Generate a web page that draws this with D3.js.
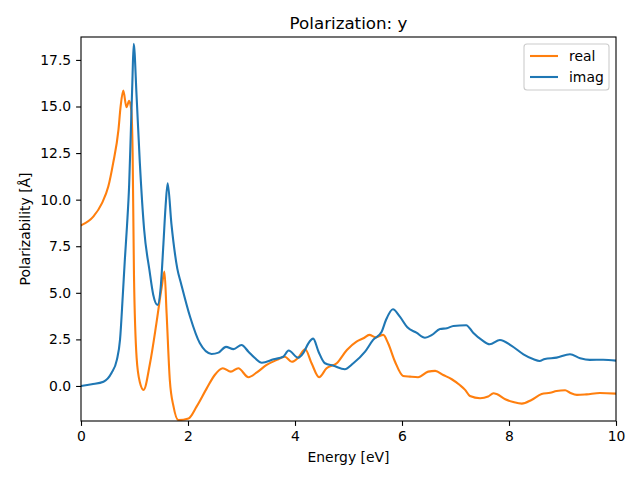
<!DOCTYPE html>
<html><head><meta charset="utf-8">
<script src="https://cdn.jsdelivr.net/npm/d3@7"></script>
<style>body{margin:0;background:#fff}svg{display:block}</style>
</head><body>
<svg id="c" width="640" height="480"></svg>
<script>
const realE = [0,0.23,0.39,0.51,0.6,0.7,0.74,0.79,0.85,0.9,0.94,0.965,0.99,1.04,1.1,1.17,1.29,1.41,1.51,1.56,1.6,1.66,1.73,1.82,2.01,2.16,2.35,2.5,2.65,2.8,2.94,3.13,3.28,3.47,3.66,3.81,3.94,4.06,4.19,4.31,4.45,4.59,4.78,4.97,5.15,5.28,5.39,5.51,5.65,5.74,5.87,6.02,6.15,6.3,6.49,6.62,6.77,6.93,7.08,7.18,7.27,7.46,7.61,7.71,7.77,7.93,8.08,8.24,8.42,8.61,8.77,8.89,9.05,9.14,9.27,9.45,9.7,10];
const realV = [8.62,9.09,9.8,10.7,11.95,13.74,14.99,15.85,14.96,15.3,14.8,12.5,6.0,1.5,0.2,-0.21,1.22,3.37,5.33,6.14,3.9,0.32,-1.11,-1.83,-1.74,-1.11,-0.13,0.59,0.95,0.77,0.95,0.47,0.71,1.13,1.4,1.57,1.3,1.52,1.97,1.22,0.47,0.95,1.22,1.93,2.38,2.56,2.74,2.61,2.74,2.29,1.3,0.54,0.5,0.47,0.77,0.81,0.59,0.36,0.05,-0.21,-0.54,-0.66,-0.57,-0.39,-0.43,-0.71,-0.86,-0.95,-0.75,-0.43,-0.36,-0.27,-0.23,-0.36,-0.48,-0.45,-0.38,-0.41];
const imagE = [0,0.2,0.42,0.57,0.67,0.73,0.78,0.82,0.86,0.9,0.93,0.96,0.985,1.04,1.1,1.18,1.28,1.35,1.43,1.49,1.54,1.58,1.62,1.69,1.8,1.87,2.04,2.22,2.44,2.57,2.71,2.85,3.0,3.13,3.25,3.38,3.6,3.78,3.88,4.06,4.16,4.25,4.34,4.44,4.56,4.72,4.93,5.09,5.31,5.46,5.62,5.7,5.83,5.96,6.1,6.27,6.43,6.56,6.71,6.84,6.96,7.2,7.33,7.49,7.64,7.83,8.05,8.27,8.46,8.57,8.67,8.89,9.14,9.33,9.51,9.76,10];
const imagV = [0,0.09,0.23,0.7,1.4,2.5,4.8,6.8,8.6,10.8,13.5,16.3,18.36,15.5,11.96,8.4,6.2,4.9,4.35,5.3,7.6,9.6,10.88,8.7,6.3,5.5,3.7,2.3,1.72,1.79,2.1,1.98,2.2,1.84,1.5,1.25,1.43,1.57,1.9,1.52,1.79,2.29,2.54,1.84,1.22,1.09,0.9,1.22,1.84,2.47,2.91,3.54,4.12,3.72,3.15,2.86,2.59,2.74,3.06,3.1,3.22,3.26,2.86,2.47,2.24,2.47,2.15,1.7,1.43,1.34,1.45,1.52,1.7,1.49,1.4,1.41,1.36];
const xTicks = [0,2,4,6,8,10];
const yTicks = [0,2.5,5,7.5,10,12.5,15,17.5];
const seriesNames = ["real","imag"];
const colors = ["#ff7f0e","#1f77b4"];

const svg = d3.select("#c");
const L=81,R=616,T=37,B=421;
const x = d3.scaleLinear().domain([0,10]).range([L,R]);
const y = d3.scaleLinear().domain([-1.88,18.73]).range([B,T]);
const font = "DejaVu Sans, sans-serif";

svg.append("defs").append("clipPath").attr("id","clip")
  .append("rect").attr("x",L).attr("y",T).attr("width",R-L).attr("height",B-T);

const line = d3.line().x(d=>x(d[0])).y(d=>y(d[1])).curve(d3.curveMonotoneX);
const data = [realE.map((e,i)=>[e,realV[i]]), imagE.map((e,i)=>[e,imagV[i]])];
const g = svg.append("g").attr("clip-path","url(#clip)");
data.forEach((d,i)=>{
  g.append("path").datum(d).attr("d",line).attr("fill","none")
   .attr("stroke",colors[i]).attr("stroke-width",2.1).attr("stroke-linejoin","round").attr("stroke-linecap","square");
});

const xa = svg.append("g").attr("transform",`translate(0,${B})`)
  .call(d3.axisBottom(x).tickValues(xTicks).tickFormat(d3.format("d")).tickSize(4.9).tickPadding(4.9));
const ya = svg.append("g").attr("transform",`translate(${L},0)`)
  .call(d3.axisLeft(y).tickValues(yTicks).tickFormat(d3.format(".1f")).tickSize(4.9).tickPadding(4.9));
[xa,ya].forEach(a=>{
  a.select(".domain").remove();
  a.selectAll("line").attr("stroke","#000").attr("stroke-width",1.1);
  a.selectAll("text").attr("font-family",font).attr("font-size",13.9).attr("fill","#000");
});
svg.append("rect").attr("x",L).attr("y",T).attr("width",R-L).attr("height",B-T)
  .attr("fill","none").attr("stroke","#000").attr("stroke-width",1.1);

svg.append("text").attr("x",(L+R)/2).attr("y",29).attr("text-anchor","middle")
  .attr("font-family",font).attr("font-size",16.7).text("Polarization: y");
svg.append("text").attr("x",(L+R)/2).attr("y",462).attr("text-anchor","middle")
  .attr("font-family",font).attr("font-size",13.9).text("Energy [eV]");
svg.append("text").attr("transform",`translate(30,${(T+B)/2}) rotate(-90)`).attr("text-anchor","middle")
  .attr("font-family",font).attr("font-size",13.9).text("Polarizability [Å]");

const lg = svg.append("g");
lg.append("rect").attr("x",524).attr("y",44).attr("width",85).attr("height",46).attr("rx",3)
  .attr("fill","#fff").attr("fill-opacity",0.8).attr("stroke","#cccccc").attr("stroke-width",1.1);
seriesNames.forEach((n,i)=>{
  const yy = 56 + i*21;
  lg.append("line").attr("x1",530).attr("x2",558).attr("y1",yy).attr("y2",yy)
    .attr("stroke",colors[i]).attr("stroke-width",2.1);
  lg.append("text").attr("x",569).attr("y",yy+5).attr("font-family",font).attr("font-size",13.9).text(n);
});
</script>
</body></html>
